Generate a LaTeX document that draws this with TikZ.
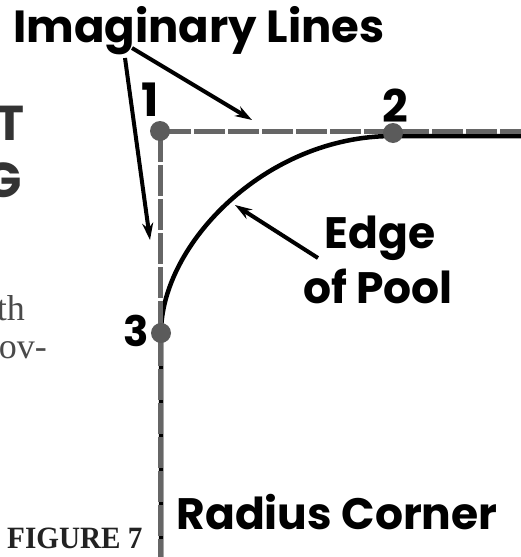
\documentclass[tikz,border=0pt]{standalone}
\usepackage{fontspec}
\setmainfont{Poppins}
\newfontfamily\serifx{Liberation Serif}
\usetikzlibrary{arrows.meta}
\definecolor{dotgray}{HTML}{5B5B5B}
\definecolor{linegray}{HTML}{666666}
\definecolor{txtgray}{HTML}{333333}
\definecolor{bodygray}{HTML}{4A4A4A}
\definecolor{figgray}{HTML}{222222}
\tikzset{
  lbl/.style={inner sep=0pt, anchor=base, font=\bfseries, text=black},
  imagline/.style={draw=linegray, line width=5pt, dash pattern=on 31pt off 3pt},
  edgeline/.style={draw=black, line width=4.5pt},
  pointer/.style={draw=black, line width=4pt, -{Stealth[length=17pt,width=11pt]}},
  dot/.style={circle, fill=dotgray, minimum size=20pt, inner sep=0pt},
}
\begin{document}
\begin{tikzpicture}[x=1pt,y=-1pt]
\useasboundingbox (0,0) rectangle (521,557);
% partial left texts
\node[inner sep=0pt, anchor=base east, text=txtgray, font=\bfseries\fontsize{49}{49}\selectfont] (tT) at (25,140) {T};
\node[inner sep=0pt, anchor=base east, text=txtgray, font=\bfseries\fontsize{49}{49}\selectfont] (tG) at (22,197) {G};
\node[inner sep=0pt, anchor=base east, text=bodygray, font=\serifx\fontsize{36}{36}\selectfont] (tth) at (25,320) {th};
\node[inner sep=0pt, anchor=base east, text=bodygray, font=\serifx\fontsize{36}{36}\selectfont] (tov) at (47,358) {ov-};
% points
\coordinate (p1) at (160,131);
\coordinate (p2) at (393,133);
\coordinate (p3) at (161,333);
\coordinate (vb) at (160,560);
\coordinate (hr) at (525,131);
\coordinate (eb) at (161,560);
\coordinate (er) at (525,136);
% edge of pool
\draw[edgeline] (eb) -- (p3) .. controls (161,245) and (265,136) .. (393,136) -- (er);
% imaginary lines
\draw[imagline] (p1) -- (vb);
\draw[imagline] (p1) -- (hr);
\node[dot] (d1) at (p1) {};
\node[dot] (d2) at (p2) {};
\node[dot] (d3) at (p3) {};
% labels
\node[lbl, font=\bfseries\fontsize{45}{45}\selectfont] (title) at (199,42) {Imaginary Lines};
\node[lbl, font=\bfseries\fontsize{46}{46}\selectfont] (n1) at (150,116) {1};
\node[lbl, font=\bfseries\fontsize{45}{45}\selectfont] (n2) at (395,122) {2};
\node[lbl, font=\bfseries\fontsize{42}{42}\selectfont] (n3) at (136,346) {3};
\node[lbl, font=\bfseries\fontsize{44}{44}\selectfont] (edge) at (380,248) {Edge};
\node[lbl, font=\bfseries\fontsize{44}{44}\selectfont] (pool) at (378,303) {of Pool};
\node[lbl, font=\bfseries\fontsize{44}{44}\selectfont] (radius) at (337,529) {Radius Corner};
\node[inner sep=0pt, anchor=base west, text=figgray, font=\serifx\bfseries\fontsize{31}{31}\selectfont] (fig) at (7,548) {\scalebox{0.94}[1]{FIGURE 7}};
% pointers
\coordinate (a1s) at (132,48);
\coordinate (a1e) at (252,120);
\coordinate (a2s) at (125,58);
\coordinate (a2e) at (150,240);
\coordinate (a3s) at (318,258);
\coordinate (a3e) at (235,205);
\draw[pointer] (a1s) -- (a1e);
\draw[pointer] (a2s) -- (a2e);
\draw[pointer] (a3s) -- (a3e);
\end{tikzpicture}
\end{document}
